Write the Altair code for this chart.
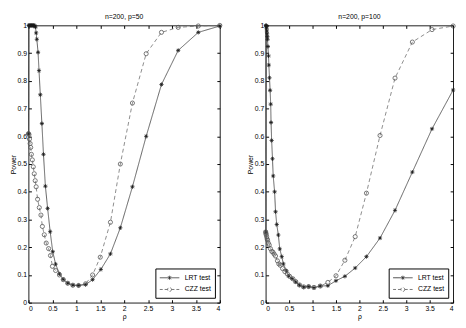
import altair as alt
import pandas as pd

# ---- panel 1: n=200, p=50 ----
lrt50_x = [0, 0.005, 0.015, 0.03, 0.045, 0.06, 0.075, 0.09, 0.105, 0.12, 0.133, 0.146, 0.16, 0.174,
           0.2, 0.22, 0.247, 0.28, 0.313, 0.353, 0.4, 0.453, 0.507, 0.567, 0.647, 0.727, 0.82, 0.927,
           1.047, 1.193, 1.34, 1.513, 1.713, 1.92, 2.173, 2.46, 2.78, 3.13, 3.55, 4.0]
lrt50_y = [0.61, 1.0, 1.0, 1.0, 1.0, 1.0, 1.0, 1.0, 1.0, 1.0, 0.998, 0.994, 0.973, 0.95,
           0.903, 0.837, 0.75, 0.646, 0.535, 0.42, 0.34, 0.256, 0.184, 0.139, 0.104, 0.084, 0.07, 0.063,
           0.062, 0.065, 0.083, 0.12, 0.176, 0.27, 0.418, 0.6, 0.787, 0.91, 0.975, 0.998]
czz50_x = [0, 0.01, 0.02, 0.034, 0.046, 0.06, 0.08, 0.1, 0.12, 0.14, 0.16, 0.19, 0.225, 0.26, 0.29,
           0.33, 0.37, 0.42, 0.46, 0.5, 0.567, 0.647, 0.727, 0.82, 0.927, 1.047, 1.193, 1.34, 1.5,
           1.713, 1.92, 2.173, 2.46, 2.78, 3.13, 3.55, 4.0]
czz50_y = [0.61, 0.606, 0.59, 0.574, 0.56, 0.535, 0.515, 0.49, 0.465, 0.44, 0.418, 0.373, 0.343, 0.316, 0.275,
           0.245, 0.215, 0.195, 0.17, 0.131, 0.116, 0.10, 0.083, 0.07, 0.063, 0.062, 0.068, 0.1, 0.164,
           0.29, 0.5, 0.72, 0.898, 0.975, 0.993, 0.998, 1.0]

# ---- panel 2: n=200, p=100 ----
lrt100_x = [0, 0.005, 0.01, 0.015, 0.02, 0.025, 0.03, 0.035, 0.04, 0.047, 0.06, 0.067, 0.081, 0.094,
            0.107, 0.114, 0.127, 0.145, 0.16, 0.19, 0.21, 0.236, 0.27, 0.3, 0.343, 0.377, 0.444, 0.49,
            0.559, 0.64, 0.72, 0.81, 0.916, 1.03, 1.165, 1.327, 1.5, 1.69, 1.91, 2.15, 2.44, 2.76,
            3.13, 3.55, 4.0]
lrt100_y = [0.255, 1.0, 1.0, 0.997, 0.99, 0.98, 0.97, 0.96, 0.95, 0.924, 0.89, 0.857, 0.811, 0.766,
            0.716, 0.65, 0.585, 0.519, 0.457, 0.40, 0.328, 0.282, 0.244, 0.194, 0.166, 0.14, 0.115, 0.096,
            0.087, 0.075, 0.063, 0.056, 0.058, 0.054, 0.06, 0.061, 0.079, 0.095, 0.125, 0.166, 0.233, 0.333,
            0.471, 0.627, 0.767]
czz100_x = [0, 0.005, 0.01, 0.02, 0.03, 0.04, 0.055, 0.075, 0.1, 0.13, 0.155, 0.18, 0.21, 0.25, 0.28,
            0.31, 0.36, 0.41, 0.46, 0.51, 0.58, 0.64, 0.72, 0.81, 0.916, 1.03, 1.165, 1.327, 1.5, 1.69,
            1.91, 2.15, 2.44, 2.76, 3.13, 3.55, 4.0]
czz100_y = [0.255, 0.25, 0.245, 0.238, 0.23, 0.225, 0.215, 0.208, 0.195, 0.185, 0.182, 0.175, 0.168, 0.151, 0.14,
            0.135, 0.123, 0.112, 0.104, 0.095, 0.086, 0.076, 0.064, 0.057, 0.058, 0.055, 0.06, 0.073, 0.097, 0.153,
            0.238, 0.395, 0.603, 0.81, 0.94, 0.985, 0.998]

tests = ["LRT test", "CZZ test"]
titles = ["n=200, p=50", "n=200, p=100"]
x_ticks = [0, 0.5, 1, 1.5, 2, 2.5, 3, 3.5, 4]
y_ticks = [0, 0.1, 0.2, 0.3, 0.4, 0.5, 0.6, 0.7, 0.8, 0.9, 1]

FONT = "Liberation Sans"
H = 284
AST = "M-1,0L1,0M0,-1L0,1M-0.7,-0.7L0.7,0.7M-0.7,0.7L0.7,-0.7"
# legend symbols: a line sample with the marker in its middle (unit = half the symbol size)
LEG_LRT = "M-1,0L3,0M1,-0.42L1,0.42M0.7,-0.3L1.3,0.3M0.7,0.3L1.3,-0.3"
LEG_CZZ = "M-1,0L0.6,0M1.4,0L3,0M1.4,0A0.4,0.4,0,1,1,0.6,0A0.4,0.4,0,1,1,1.4,0"


def make_df(lx, ly, cx, cy):
    return pd.DataFrame({
        "rho": lx + cx,
        "power": ly + cy,
        "test": [tests[0]] * len(lx) + [tests[1]] * len(cx),
    })


def panel(df, title, w):
    xs = alt.Scale(domain=[0, 4], nice=False, zero=False)
    ys = alt.Scale(domain=[0, 1], nice=False)
    common = dict(grid=False, domain=False, minExtent=0)
    base = alt.Chart(df)

    line = base.mark_line(strokeWidth=0.8).encode(
        x=alt.X("rho:Q", scale=xs, axis=alt.Axis(orient="bottom", values=x_ticks, format="~g", title="ρ",
                                                ticks=False, labelPadding=2, titlePadding=1, **common)),
        y=alt.Y("power:Q", scale=ys, axis=alt.Axis(orient="left", values=y_ticks, format="~g", title="Power",
                                                  ticks=False, labelPadding=2, titlePadding=1, **common)),
        color=alt.Color("test:N", scale=alt.Scale(domain=tests, range=["#3a3a3a", "#6e6e6e"]), legend=None),
        strokeDash=alt.StrokeDash("test:N", scale=alt.Scale(domain=tests, range=[[1, 0], [4, 3]]), legend=None),
    )

    pts = base.mark_point(filled=False, strokeWidth=0.8, size=18, opacity=1).encode(
        x=alt.X("rho:Q", scale=xs, axis=alt.Axis(orient="top", offset=-H, values=x_ticks, labels=False, title=None,
                                                tickSize=3, tickColor="black", **common)),
        y=alt.Y("power:Q", scale=ys, axis=alt.Axis(orient="right", offset=-w, values=y_ticks, labels=False, title=None,
                                                  tickSize=3, tickColor="black", **common)),
        shape=alt.Shape("test:N", scale=alt.Scale(domain=tests, range=[AST, "circle"]), legend=None),
        color=alt.Color("test:N", scale=alt.Scale(domain=tests, range=["#1a1a1a", "#555555"]), legend=None),
    )

    leg_opts = dict(title=None, orient="bottom-right", offset=5, padding=4, strokeColor="black",
                    fillColor="white", cornerRadius=0, symbolSize=100, symbolStrokeWidth=0.8,
                    labelFontSize=7, labelFont=FONT, labelColor="black", labelOffset=15, rowPadding=2)
    leg = base.transform_filter("datum.power < -1").mark_point(filled=False, strokeWidth=0.8, opacity=1).encode(
        x=alt.X("rho:Q", scale=xs, axis=alt.Axis(orient="bottom", offset=-H, values=x_ticks, labels=False, title=None,
                                                tickSize=3, tickColor="black", **common)),
        y=alt.Y("power:Q", scale=ys, axis=alt.Axis(orient="left", offset=-w, values=y_ticks, labels=False, title=None,
                                                  tickSize=3, tickColor="black", **common)),
        shape=alt.Shape("test:N", scale=alt.Scale(domain=tests, range=[LEG_LRT, LEG_CZZ]), legend=alt.Legend(**leg_opts)),
        strokeDash=alt.StrokeDash("test:N", scale=alt.Scale(domain=tests, range=[[1, 0], [3, 2]]), legend=alt.Legend(**leg_opts)),
        color=alt.Color("test:N", scale=alt.Scale(domain=tests, range=["#222222", "#555555"]), legend=alt.Legend(**leg_opts)),
    )

    return alt.layer(line, pts, leg).resolve_scale(
        shape="independent", color="independent", strokeDash="independent"
    ).resolve_axis(x="independent", y="independent").properties(
        width=w, height=H,
        title=alt.TitleParams(title, fontSize=7, fontWeight="normal", font=FONT, offset=2, color="black"),
    )


left = panel(make_df(lrt50_x, lrt50_y, czz50_x, czz50_y), titles[0], 196)
right = panel(make_df(lrt100_x, lrt100_y, czz100_x, czz100_y), titles[1], 192)

chart = alt.hconcat(left, right, spacing=21).properties(padding=0).configure_view(
    stroke="black", strokeWidth=0.9
).configure_axis(
    labelFont=FONT, labelFontSize=7, labelColor="black", titleFont=FONT, titleFontSize=7,
    titleFontWeight="normal", titleColor="black"
)

chart.save("out.html", embed_options={"renderer": "svg", "actions": False})
